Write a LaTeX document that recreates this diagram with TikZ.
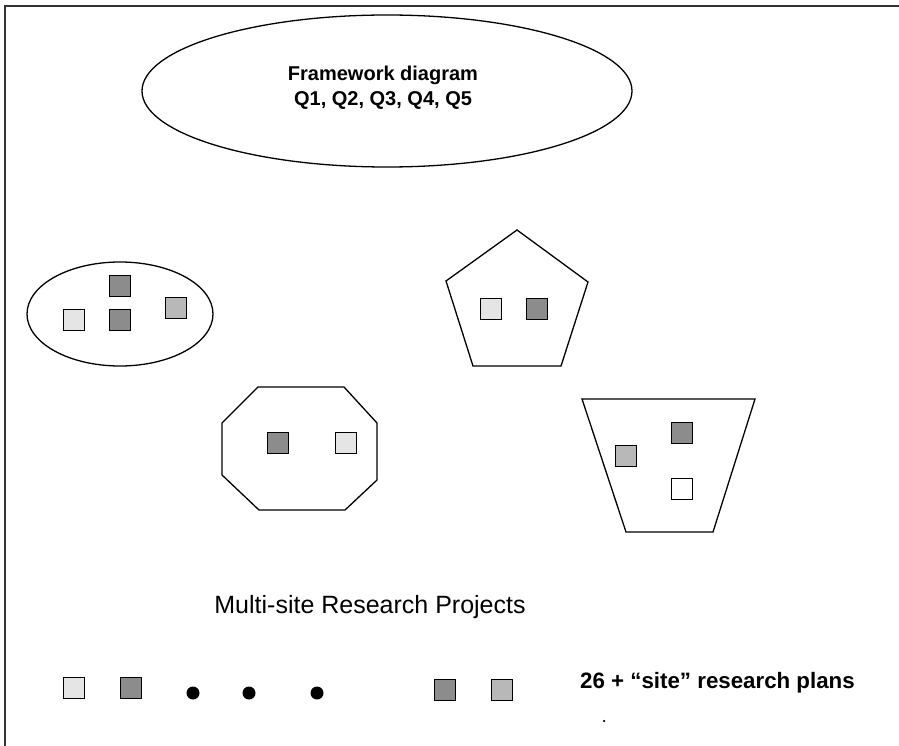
\documentclass[tikz,border=0pt]{standalone}
\usepackage{fontspec}
\setmainfont{Liberation Sans}
\usetikzlibrary{shapes.geometric}
\definecolor{sqlight}{gray}{0.90}
\definecolor{sqmed}{gray}{0.72}
\definecolor{sqdark}{gray}{0.55}
\tikzset{
  outline/.style={draw=black, line width=1.3pt},
  sq/.style={draw=black, line width=1.3pt, minimum size=21pt, inner sep=0pt},
  sqL/.style={sq, fill=sqlight},
  sqM/.style={sq, fill=sqmed},
  sqD/.style={sq, fill=sqdark},
  sqW/.style={sq, fill=white},
  blob/.style={circle, fill=black, minimum size=13pt, inner sep=0pt},
}
\begin{document}
\begin{tikzpicture}[x=1pt,y=-1pt]
\useasboundingbox (0,0) rectangle (899,746);
% frame (top and left only)
\coordinate (fTL) at (5,6);
\coordinate (fTR) at (899,6);
\coordinate (fBL) at (5,746);
\draw[line width=1.2pt, black!80] (fTR) -- (fTL) -- (fBL);

% top ellipse
\node[ellipse, outline, minimum width=490pt, minimum height=152pt, inner sep=0pt] (frame) at (387,91) {};
\node[font=\fontsize{20}{25}\selectfont\bfseries, align=center] (ftext) at (383,88) {Framework diagram\\Q1, Q2, Q3, Q4, Q5};

% left ellipse
\node[ellipse, outline, minimum width=186pt, minimum height=104pt, inner sep=0pt] (ell) at (120,314) {};
\node[sqD] (e1) at (120,286) {};
\node[sqD] (e2) at (120,320) {};
\node[sqL] (e3) at (74,320) {};
\node[sqM] (e4) at (176,308) {};

% pentagon
\draw[outline] (517,230) -- (588,282) -- (561,366) -- (473,366) -- (446,281) -- cycle;
\node[sqL] (p1) at (491,309) {};
\node[sqD] (p2) at (537,309) {};

% octagon
\draw[outline] (258,387) -- (344,387) -- (377,423) -- (377,480) -- (345,510) -- (259,510) -- (222,475) -- (222,423) -- cycle;
\node[sqD] (o1) at (278,443) {};
\node[sqL] (o2) at (346,443) {};

% trapezoid
\draw[outline] (582,399) -- (755,399) -- (713,532) -- (626,532) -- cycle;
\node[sqM] (t1) at (626,456) {};
\node[sqD] (t2) at (682,433) {};
\node[sqW] (t3) at (682,489) {};

% caption
\node[font=\fontsize{25}{30}\selectfont] (mtext) at (370,607) {Multi-site Research Projects};

% bottom row
\node[sqL] (b1) at (74,688) {};
\node[sqD] (b2) at (131,688) {};
\node[blob] (d1) at (193,693) {};
\node[blob] (d2) at (249,693) {};
\node[blob] (d3) at (317,693) {};
\node[sqD] (b3) at (445,690) {};
\node[sqM] (b4) at (502,690) {};
\node[font=\fontsize{22.3}{26}\selectfont\bfseries, anchor=west, inner sep=0pt] (btext) at (580,683) {26 + “site” research plans};
\node[circle, fill=black, minimum size=2.5pt, inner sep=0pt] (speck) at (604,721) {};
\end{tikzpicture}
\end{document}
